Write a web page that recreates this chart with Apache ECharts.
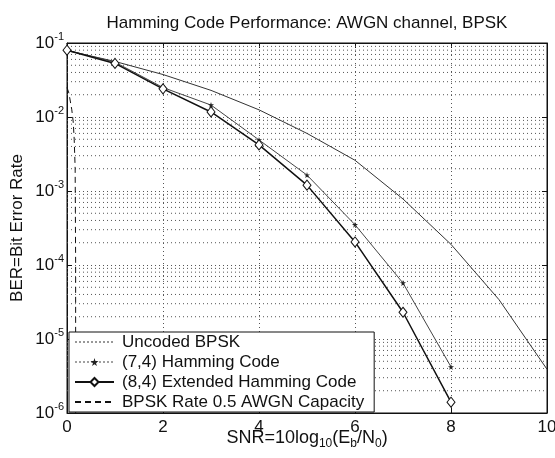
<!DOCTYPE html>
<html>
<head>
<meta charset="utf-8">
<script src="https://cdn.jsdelivr.net/npm/echarts@6/dist/echarts.min.js"></script>
<style>
html,body{margin:0;padding:0;background:#fff;}
#chart{width:555px;height:458px;}
</style>
</head>
<body>
<div id="chart"></div>
<script>
// ---- data ----
var snrUncoded = [0, 1, 2, 3, 4, 5, 6, 7, 8, 9, 10];
var berUncoded = [0.0790, 0.0563, 0.0375, 0.0229, 0.0125, 0.00600, 0.00260, 0.00078, 0.00019, 0.000034, 0.0000039];
var snrCoded = [0, 1, 2, 3, 4, 5, 6, 7, 8];
var berHamming74 = [0.080, 0.055, 0.025, 0.0145, 0.0049, 0.00164, 0.00035, 0.000057, 0.0000042];
var berHamming84 = [0.080, 0.053, 0.024, 0.0117, 0.0042, 0.00120, 0.000205, 0.000023, 0.0000014];
var snrCapacity = [0, 0.04, 0.10, 0.13, 0.15, 0.17, 0.18, 0.18];
var berCapacity = [0.025, 0.021, 0.0125, 0.0085, 0.005, 0.002, 0.0001, 0.000001];
var seriesNames = ['Uncoded BPSK', '(7,4) Hamming Code', '(8,4) Extended Hamming Code', 'BPSK Rate 0.5 AWGN Capacity'];
var xTicks = [0, 2, 4, 6, 8, 10];
var yDecades = [-6, -5, -4, -3, -2, -1];

function pairs(xs, ys) { return xs.map(function (x, i) { return [x, ys[i]]; }); }

// minor log grid lines (2..9 x 10^k)
var minorValues = [];
yDecades.slice(0, 5).forEach(function (e) {
  for (var m = 2; m <= 9; m++) minorValues.push([0, m * Math.pow(10, e)]);
});

var FONT = 'Liberation Sans, Arial, Helvetica, sans-serif';
var starPath = 'path://M50,0 L61,35 L98,35 L68,57 L79,91 L50,70 L21,91 L32,57 L2,35 L39,35 Z';

var chart = echarts.init(document.getElementById('chart'), null, { renderer: 'canvas' });
var gridLine = { show: true, lineStyle: { color: '#555', width: 1, type: [1, 3] } };

chart.setOption({
  animation: false,
  backgroundColor: '#fff',
  textStyle: { fontFamily: FONT, color: '#111' },
  title: {
    text: 'Hamming Code Performance: AWGN channel, BPSK',
    left: 307, top: 15, textAlign: 'center', padding: 0,
    textStyle: { fontFamily: FONT, fontSize: 17, fontWeight: 'normal', color: '#111' }
  },
  grid: { left: 67, right: 8, top: 43, bottom: 45, show: true, borderColor: '#111', borderWidth: 1,
    backgroundColor: 'transparent', containLabel: false, outerBoundsMode: 'none' },
  legend: {
    orient: 'vertical', left: 69, top: 332,
    data: [
      { name: seriesNames[0], itemStyle: { opacity: 0 }, lineStyle: { type: [2, 2], width: 1 } },
      { name: seriesNames[1], lineStyle: { type: [2, 2], width: 1 } },
      { name: seriesNames[2] },
      { name: seriesNames[3], itemStyle: { opacity: 0 } }
    ],
    backgroundColor: '#fff', borderColor: '#111', borderWidth: 1,
    padding: [0, 10, 0, 5], itemGap: 0, itemWidth: 39, itemHeight: 10,
    textStyle: { fontFamily: FONT, fontSize: 17, color: '#111', lineHeight: 20, padding: [0, 0, 0, 3] }
  },
  xAxis: [{
    type: 'value', min: 0, max: 10, interval: 2,
    name: 'SNR=10log{sub|10}(E{sub|b}/N{sub|0})',
    nameLocation: 'middle', nameGap: 13, nameMoveOverlap: false,
    nameTextStyle: {
      fontFamily: FONT, fontSize: 18, color: '#111', lineHeight: 24, verticalAlign: 'top',
      rich: { sub: { fontFamily: FONT, fontSize: 12, color: '#111', lineHeight: 12, verticalAlign: 'bottom' } }
    },
    axisLine: { show: true, onZero: false, lineStyle: { color: '#111', width: 1 } },
    axisTick: { show: true, inside: true, length: 5, lineStyle: { color: '#111' } },
    axisLabel: { fontFamily: FONT, fontSize: 17, color: '#111', margin: 6,
      formatter: function (v) { return xTicks.indexOf(v) >= 0 ? String(v) : ''; } },
    splitLine: gridLine
  }, {
    type: 'value', min: 0, max: 10, interval: 2, position: 'top',
    axisLine: { show: true, onZero: false, lineStyle: { color: '#111', width: 1 } },
    axisTick: { show: true, inside: true, length: 5, lineStyle: { color: '#111' } },
    axisLabel: { show: false }, splitLine: { show: false }
  }],
  yAxis: [{
    type: 'log', logBase: 10, min: 1e-6, max: 1e-1,
    name: 'BER=Bit Error Rate', nameLocation: 'middle', nameGap: 41, nameMoveOverlap: false,
    nameTextStyle: { fontFamily: FONT, fontSize: 17, color: '#111' },
    axisLine: { show: true, onZero: false, lineStyle: { color: '#111', width: 1 } },
    axisTick: { show: true, inside: true, length: 5, lineStyle: { color: '#111' } },
    axisLabel: {
      margin: 3,
      formatter: function (v) {
        var e = Math.round(Math.log(v) / Math.LN10);
        return '{b|10}{s|' + e + '}';
      },
      rich: {
        b: { fontFamily: FONT, fontSize: 17, color: '#111', lineHeight: 24, verticalAlign: 'middle' },
        s: { fontFamily: FONT, fontSize: 11, color: '#111', lineHeight: 12, verticalAlign: 'top' }
      }
    },
    splitLine: gridLine
  }, {
    type: 'log', logBase: 10, min: 1e-6, max: 1e-1, position: 'right',
    axisLine: { show: true, onZero: false, lineStyle: { color: '#111', width: 1 } },
    axisTick: { show: true, inside: true, length: 5, lineStyle: { color: '#111' } },
    axisLabel: { show: false }, splitLine: { show: false }
  }],
  series: [{
    name: 'minor grid', type: 'custom', silent: true, z: 1,
    data: minorValues,
    encode: { x: 0, y: 1 },
    renderItem: function (params, api) {
      var v = api.value(1);
      var p1 = api.coord([0, v]);
      var p2 = api.coord([10, v]);
      return {
        type: 'line',
        shape: { x1: p1[0], y1: p1[1], x2: p2[0], y2: p2[1] },
        style: { stroke: '#555', lineWidth: 1, lineDash: [1, 3] }
      };
    }
  }, {
    name: seriesNames[0], type: 'line', data: pairs(snrUncoded, berUncoded),
    symbol: 'none', lineStyle: { color: '#333', width: 1 }, itemStyle: { color: '#333' }, z: 3
  }, {
    name: seriesNames[1], type: 'line', data: pairs(snrCoded, berHamming74),
    symbol: starPath, symbolSize: 6,
    lineStyle: { color: '#444', width: 1 }, itemStyle: { color: '#222' }, z: 4
  }, {
    name: seriesNames[2], type: 'line', data: pairs(snrCoded, berHamming84),
    symbol: 'diamond', symbolSize: [8, 10],
    lineStyle: { color: '#111', width: 1.5 }, itemStyle: { color: '#fff', borderColor: '#111', borderWidth: 1 }, z: 5
  }, {
    name: seriesNames[3], type: 'line', data: pairs(snrCapacity, berCapacity),
    symbol: 'none', lineStyle: { color: '#111', width: 1, type: [6, 4] }, itemStyle: { color: '#111' }, z: 2
  }]
});
</script>
</body>
</html>
